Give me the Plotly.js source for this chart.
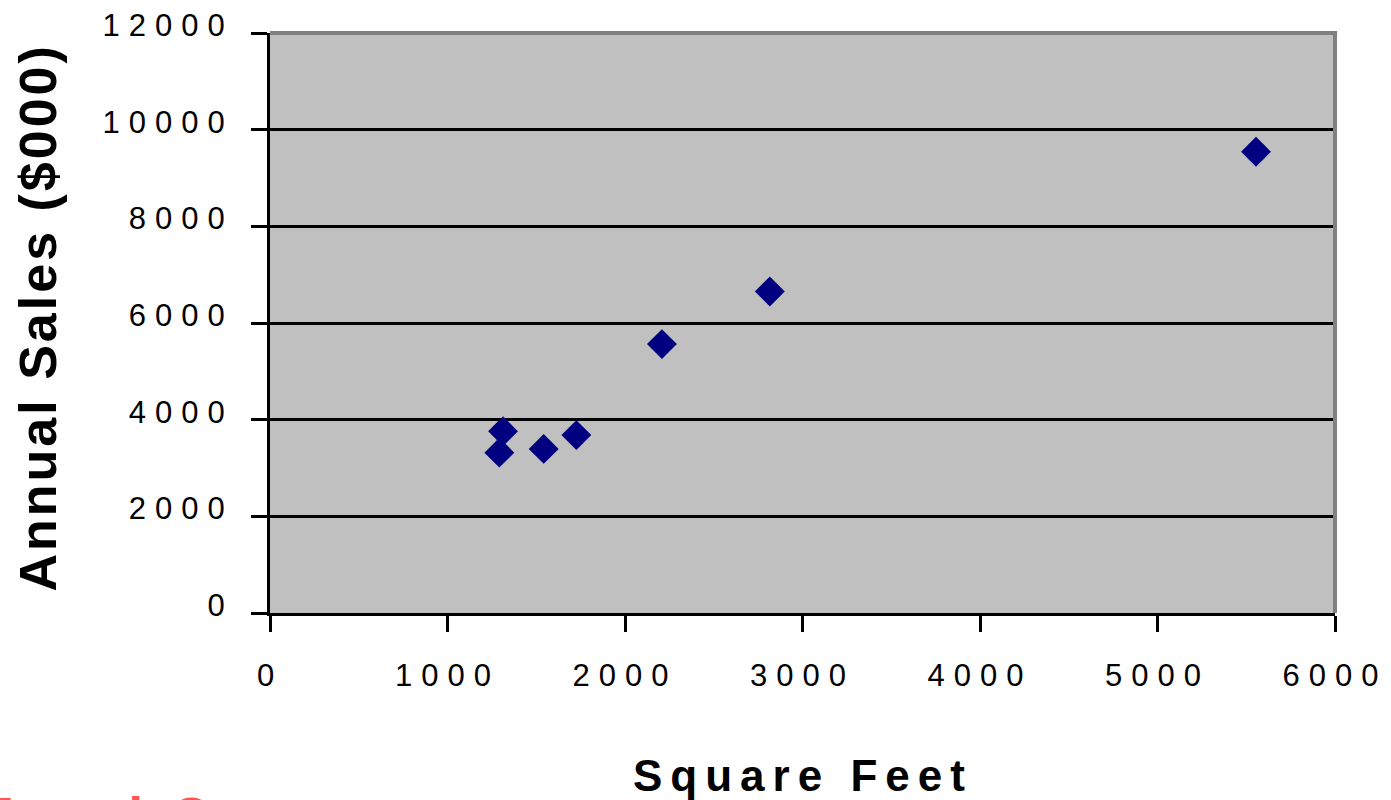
<!DOCTYPE html>
<html>
<head>
<meta charset="utf-8">
<script src="https://cdn.plot.ly/plotly-3.0.1.min.js"></script>
<style>
  html, body { margin: 0; padding: 0; background: #ffffff; }
  #chart { width: 1391px; height: 800px; }
  .xtick text, .ytick text { letter-spacing: 9px; }
  .annotation[data-index="0"] text { letter-spacing: 8px; }
  .annotation[data-index="1"] text { letter-spacing: 3px; }
  .annotation[data-index="2"] text { letter-spacing: 7px; }
</style>
</head>
<body>
<div id="chart"></div>
<script>
// Data
const squareFeet  = [1726, 1542, 2816, 5555, 1292, 2208, 1313];
const annualSales = [3681, 3395, 6653, 9543, 3318, 5563, 3760];

const xTicks = [0, 1000, 2000, 3000, 4000, 5000, 6000];
const yTicks = [0, 2000, 4000, 6000, 8000, 10000, 12000];

const xTitle = "Square Feet";
const yTitle = "Annual Sales ($000)";
const footerText = "Excel Output";

const FONT = "Arial, 'Liberation Sans', sans-serif";

const trace = {
  type: "scatter",
  mode: "markers",
  x: squareFeet,
  y: annualSales,
  marker: { symbol: "diamond", size: 23, color: "#000080", line: { width: 0 } },
  hoverinfo: "x+y"
};

const layout = {
  width: 1391,
  height: 800,
  margin: { l: 270, r: 56, t: 33, b: 187, pad: 0 },
  paper_bgcolor: "#ffffff",
  plot_bgcolor: "#c0c0c0",
  font: { family: FONT, color: "#000000" },
  showlegend: false,
  xaxis: {
    range: [0, 6000],
    tickvals: xTicks,
    ticktext: xTicks.map(String),
    showgrid: false,
    zeroline: false,
    showline: true,
    linecolor: "#000000",
    linewidth: 3,
    ticks: "outside",
    ticklen: 16,
    tickwidth: 3,
    tickcolor: "#000000",
    ticklabelstandoff: 17,
    tickfont: { family: FONT, size: 31, color: "#000000" },
    fixedrange: true
  },
  yaxis: {
    range: [0, 12000],
    tickvals: yTicks,
    ticktext: yTicks.map(String),
    showgrid: true,
    gridcolor: "#000000",
    gridwidth: 3,
    zeroline: false,
    showline: true,
    linecolor: "#000000",
    linewidth: 3,
    ticks: "outside",
    ticklen: 16,
    tickwidth: 3,
    tickcolor: "#000000",
    ticklabelstandoff: 11,
    ticklabelshift: -8,
    tickfont: { family: FONT, size: 31, color: "#000000" },
    fixedrange: true
  },
  shapes: [
    { type: "line", xref: "paper", yref: "paper", x0: 0, x1: 1.002, y0: 1, y1: 1,
      line: { color: "#808080", width: 4 }, layer: "above" },
    { type: "line", xref: "paper", yref: "paper", x0: 1, x1: 1, y0: 0, y1: 1.003,
      line: { color: "#808080", width: 4 }, layer: "above" }
  ],
  annotations: [
    { text: "<b>" + xTitle + "</b>", xref: "paper", yref: "paper",
      x: 0.5, y: (613 - 775) / 580, xanchor: "center", yanchor: "middle",
      showarrow: false, font: { family: FONT, size: 44, color: "#000000" } },
    { text: "<b>" + yTitle + "</b>", xref: "paper", yref: "paper",
      x: (38 - 270) / 1065, y: (613 - 318) / 580, xanchor: "center", yanchor: "middle",
      textangle: -90, showarrow: false, font: { family: FONT, size: 52, color: "#000000" } },
    { text: "<b>" + footerText + "</b>", xref: "paper", yref: "paper",
      x: (19 - 270) / 1065, y: (613 - 785) / 580, xanchor: "left", yanchor: "top",
      showarrow: false, font: { family: FONT, size: 52, color: "#ff5555" } }
  ]
};

Plotly.newPlot("chart", [trace], layout, { displayModeBar: false, staticPlot: true });
</script>
</body>
</html>
